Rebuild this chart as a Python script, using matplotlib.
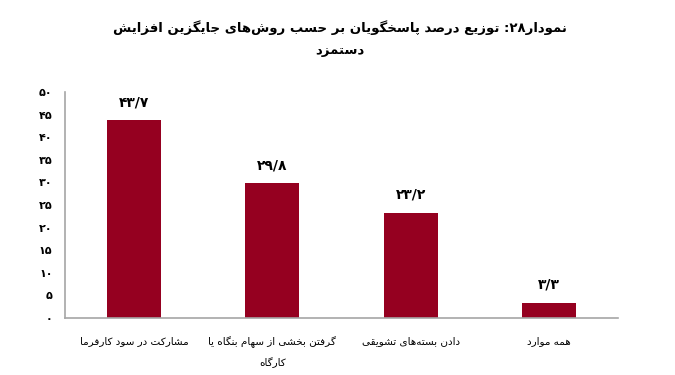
import matplotlib
matplotlib.use('Agg')
import matplotlib.pyplot as plt
from matplotlib.ticker import FuncFormatter

# داده‌ها
categories = ['مشارکت در سود کارفرما',
              'گرفتن بخشی از سهام بنگاه یا\nکارگاه',
              'دادن بسته‌های تشویقی',
              'همه موارد']
values = [43.7, 29.8, 23.2, 3.3]
value_labels = ['۴۳/۷', '۲۹/۸', '۲۳/۲', '۳/۳']
title = 'نمودار۲۸: توزیع درصد پاسخگویان بر حسب روش‌های جایگزین افزایش\nدستمزد'
yticks = [0, 5, 10, 15, 20, 25, 30, 35, 40, 45, 50]

# جدول شکل‌های حروف: (تنها، پایانی، آغازی، میانی)
FORMS = {
    'ا': (0xFE8D, 0xFE8E, None, None),
    'ب': (0xFE8F, 0xFE90, 0xFE91, 0xFE92),
    'پ': (0xFB56, 0xFB57, 0xFB58, 0xFB59),
    'ت': (0xFE95, 0xFE96, 0xFE97, 0xFE98),
    'ج': (0xFE9D, 0xFE9E, 0xFE9F, 0xFEA0),
    'ح': (0xFEA1, 0xFEA2, 0xFEA3, 0xFEA4),
    'خ': (0xFEA5, 0xFEA6, 0xFEA7, 0xFEA8),
    'د': (0xFEA9, 0xFEAA, None, None),
    'ر': (0xFEAD, 0xFEAE, None, None),
    'ز': (0xFEAF, 0xFEB0, None, None),
    'س': (0xFEB1, 0xFEB2, 0xFEB3, 0xFEB4),
    'ش': (0xFEB5, 0xFEB6, 0xFEB7, 0xFEB8),
    'ص': (0xFEB9, 0xFEBA, 0xFEBB, 0xFEBC),
    'ع': (0xFEC9, 0xFECA, 0xFECB, 0xFECC),
    'ف': (0xFED1, 0xFED2, 0xFED3, 0xFED4),
    'ق': (0xFED5, 0xFED6, 0xFED7, 0xFED8),
    'ک': (0xFB8E, 0xFB8F, 0xFB90, 0xFB91),
    'گ': (0xFB92, 0xFB93, 0xFB94, 0xFB95),
    'ل': (0xFEDD, 0xFEDE, 0xFEDF, 0xFEE0),
    'م': (0xFEE1, 0xFEE2, 0xFEE3, 0xFEE4),
    'ن': (0xFEE5, 0xFEE6, 0xFEE7, 0xFEE8),
    'ه': (0xFEE9, 0xFEEA, 0xFEEB, 0xFEEC),
    'و': (0xFEED, 0xFEEE, None, None),
    'ی': (0xFBFC, 0xFBFD, 0xFBFE, 0xFBFF),
}
DIGITS = '۰۱۲۳۴۵۶۷۸۹0123456789'


def shape_line(s):
    out = []
    for i, ch in enumerate(s):
        if ch not in FORMS:
            if ch != '\u200c':
                out.append(ch)
            continue
        f = FORMS[ch]
        prev = s[i - 1] if i > 0 else ''
        nxt = s[i + 1] if i + 1 < len(s) else ''
        join_prev = prev in FORMS and FORMS[prev][2] is not None
        join_next = nxt in FORMS and f[2] is not None
        if join_prev and join_next:
            out.append(chr(f[3]))
        elif join_prev:
            out.append(chr(f[1]))
        elif join_next:
            out.append(chr(f[2]))
        else:
            out.append(chr(f[0]))
    # ترتیب نمایشی: راست به چپ، ارقام چپ به راست
    tokens = []
    for ch in out:
        if ch in DIGITS and tokens and tokens[-1][0] in DIGITS:
            tokens[-1] += ch
        else:
            tokens.append(ch)
    return ''.join(reversed(tokens))


def fa(s):
    return '\n'.join(shape_line(line) for line in s.split('\n'))


def fa_num(v, pos=None):
    return ''.join('۰۱۲۳۴۵۶۷۸۹'[int(c)] for c in str(int(v)))


plt.rcParams['font.family'] = ['DejaVu Sans']

fig = plt.figure(figsize=(6.75, 3.75), dpi=100)
ax = fig.add_axes([65 / 675, 1 - 318 / 375, 553 / 675, 226 / 375])

x = range(len(values))
ax.bar(x, values, width=0.39, color='#950020')
for i, (v, lab) in enumerate(zip(values, value_labels)):
    ax.text(i, v + 2.5, lab, ha='center', va='bottom', fontsize=10, fontweight='bold')

ax.set_xlim(-0.5, len(values) - 0.5)
ax.set_ylim(0, 50)
ax.set_yticks(yticks)
ax.yaxis.set_major_formatter(FuncFormatter(fa_num))
ax.set_xticks(list(x))
ax.set_xticklabels([fa(c) for c in categories], fontsize=7.5, linespacing=2.0)
ax.tick_params(axis='both', length=0)
ax.tick_params(axis='x', pad=13)
ax.tick_params(axis='y', pad=9, labelsize=8)
for t in ax.get_yticklabels():
    t.set_fontweight('bold')

for side in ['top', 'right']:
    ax.spines[side].set_visible(False)
for side in ['left', 'bottom']:
    ax.spines[side].set_color('#a6a6a6')
    ax.spines[side].set_linewidth(1.2)

fig.text(340 / 675, 1 - 38.5 / 375, fa(title), ha='center', va='center',
         fontsize=9.5, fontweight='bold', linespacing=1.9)

fig.savefig('out.png', dpi=100)
